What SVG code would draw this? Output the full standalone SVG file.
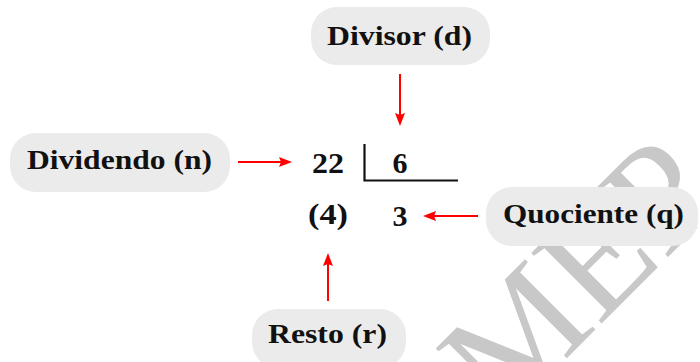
<svg xmlns="http://www.w3.org/2000/svg" width="700" height="362" viewBox="0 0 700 362">
<style>
.bg{fill:#ffffff}
.wm{font-family:"Liberation Serif","DejaVu Serif",serif;font-size:152px;fill:#c8c8c8}
.node rect{fill:#ebebeb}
.lbl{font-family:"Liberation Serif","DejaVu Serif",serif;font-weight:bold;font-size:28px;fill:#111111;text-anchor:middle}
.num{font-family:"Liberation Serif","DejaVu Serif",serif;font-weight:bold;font-size:30px;fill:#111111;text-anchor:middle}
.rule{stroke:#111111;stroke-width:2.2;fill:none}
.arrow{stroke:#ff0000;stroke-width:2;fill:none;marker-end:url(#ah)}
</style>
<defs>
<marker id="ah" markerUnits="userSpaceOnUse" viewBox="0 -6 14 12" refX="3" refY="0" markerWidth="14" markerHeight="12" orient="auto">
<path d="M0,-5 L13,0 L0,5 L2,0 z" fill="#ff0000"/>
</marker>
</defs>
<rect class="bg" x="0" y="0" width="700" height="362"/>
<text class="wm" transform="translate(503,422) rotate(-45)">MEP</text>

<g id="divisor" class="node">
<rect x="311" y="7" width="179" height="58" rx="26"/>
<text class="lbl" x="399.5" y="45" textLength="145" lengthAdjust="spacingAndGlyphs">Divisor (d)</text>
</g>
<g id="dividendo" class="node">
<rect x="10" y="133" width="220" height="59" rx="26"/>
<text class="lbl" x="119.5" y="169" textLength="185" lengthAdjust="spacingAndGlyphs">Dividendo (n)</text>
</g>
<g id="quociente" class="node">
<rect x="486" y="187" width="212" height="59" rx="26"/>
<text class="lbl" x="593.5" y="223" textLength="181" lengthAdjust="spacingAndGlyphs">Quociente (q)</text>
</g>
<g id="resto" class="node">
<rect x="252" y="309" width="154" height="59" rx="26"/>
<text class="lbl" x="327.5" y="343" textLength="119" lengthAdjust="spacingAndGlyphs">Resto (r)</text>
</g>

<g id="division">
<text class="num" x="328" y="173" textLength="32" lengthAdjust="spacingAndGlyphs">22</text>
<text class="num" x="400" y="173">6</text>
<text class="num" x="328" y="224" textLength="40" lengthAdjust="spacingAndGlyphs">(4)</text>
<text class="num" x="400" y="226">3</text>
<path class="rule" d="M364.5,144 V180.5 H458"/>
</g>

<g id="connectors">
<path class="arrow" d="M400,74 V116"/>
<path class="arrow" d="M238,162 H282"/>
<path class="arrow" d="M478,216 H433"/>
<path class="arrow" d="M328,301 V263"/>
</g>
</svg>
